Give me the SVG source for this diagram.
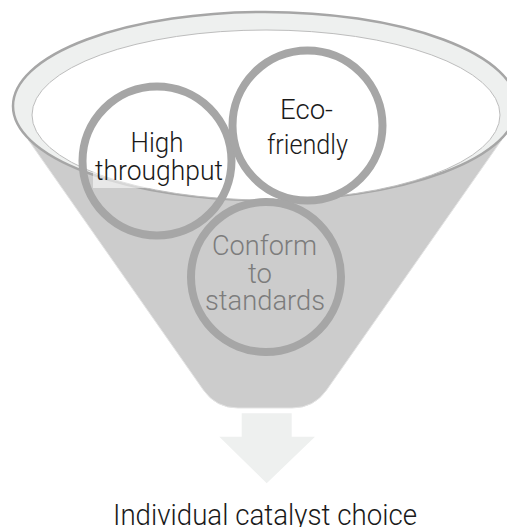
<svg xmlns="http://www.w3.org/2000/svg" width="507" height="527" viewBox="0 0 507 527">
  <style>
    .ring { fill: none; stroke: #a6a6a6; stroke-width: 8; }
    .lbl { font-family: Roboto, "Liberation Sans", Arial, sans-serif; font-weight: 300; font-size: 27px; text-anchor: middle; fill: #1a1a1a; }
    .lbl.dim { fill: #7c7c7c; }
    .big { font-family: Roboto, "Liberation Sans", Arial, sans-serif; font-weight: 300; font-size: 30px; text-anchor: middle; fill: #1a1a1a; }
  </style>
  <rect width="507" height="527" fill="#ffffff"/>
  <g id="funnel">
    <path d="M 28.4 140 L 203.4 390 Q 216 408 238 408 L 292 408 Q 314 408 326.6 390 L 501.6 140 Z" fill="#cccccc" stroke="#e3e3e3" stroke-width="1"/>
    <ellipse cx="265" cy="106" rx="252" ry="94" fill="#eef0ef" stroke="#a6a6a6" stroke-width="2.5"/>
    <ellipse cx="266" cy="115" rx="234" ry="85" fill="#ffffff" stroke="#bdbdbd" stroke-width="1"/>
    <rect x="93" y="172" width="131" height="16" fill="#ffffff" fill-opacity="0.55"/>
  </g>
  <g id="node-high">
    <circle class="ring" cx="157" cy="161" r="74.5"/>
    <text class="lbl" x="157" y="152" textLength="53" lengthAdjust="spacingAndGlyphs">High</text>
    <text class="lbl" x="159" y="180" textLength="128" lengthAdjust="spacingAndGlyphs">throughput</text>
  </g>
  <g id="node-eco">
    <circle class="ring" cx="307.5" cy="125.5" r="75"/>
    <text class="lbl" x="306.5" y="118.5" textLength="53" lengthAdjust="spacingAndGlyphs">Eco-</text>
    <text class="lbl" x="307.5" y="153.5" textLength="81" lengthAdjust="spacingAndGlyphs">friendly</text>
  </g>
  <g id="node-conform">
    <circle class="ring" cx="266" cy="277" r="75"/>
    <text class="lbl dim" x="264.5" y="255" textLength="105" lengthAdjust="spacingAndGlyphs">Conform</text>
    <text class="lbl dim" x="260" y="283" textLength="24" lengthAdjust="spacingAndGlyphs">to</text>
    <text class="lbl dim" x="265" y="310" textLength="120" lengthAdjust="spacingAndGlyphs">standards</text>
  </g>
  <g id="connectors">
    <path d="M 241.7 413.3 L 291.7 413.3 L 291.7 436.7 L 315 436.7 L 266.7 483.3 L 219.3 436.7 L 241.7 436.7 Z" fill="#eef0ef"/>
  </g>
  <g id="result">
    <text class="big" x="265" y="525" textLength="304" lengthAdjust="spacingAndGlyphs">Individual catalyst choice</text>
  </g>
</svg>
